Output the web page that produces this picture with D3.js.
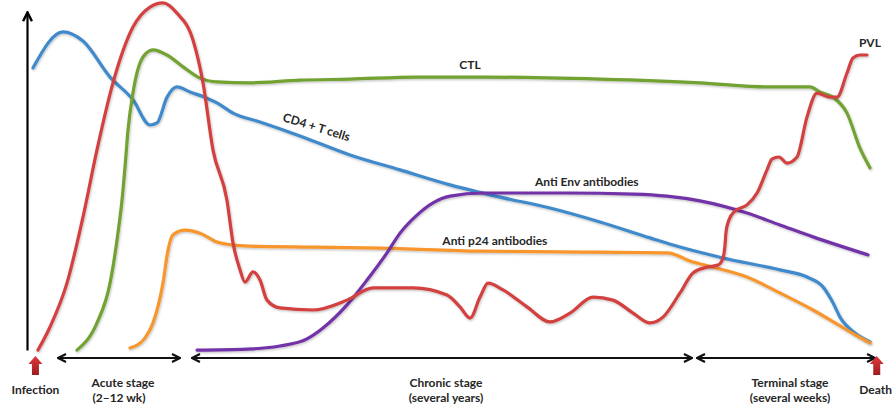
<!DOCTYPE html>
<html>
<head>
<meta charset="utf-8">
<script src="https://cdn.jsdelivr.net/npm/d3@7/dist/d3.min.js"></script>
<style>
  html, body { margin: 0; padding: 0; background: #fff; }
  svg { display: block; }
  text { font-family: Lato, "Open Sans", sans-serif; font-weight: 700; fill: #262626; }
</style>
</head>
<body>
<svg id="chart" width="893" height="414"></svg>
<script>
// ---- Data (x: relative time 0 = infection, 100 = death; y: relative level) ----
const pvlX = [1.30,2.73,4.74,6.64,8.30,10.20,12.57,14.59,16.13,17.79,19.69,20.88,22.06,23.72,24.44,25.27,25.86,26.81,27.64,28.47,30.01,33.93,37.96,41.04,45.79,49.82,51.36,52.55,53.74,54.69,56.47,59.31,62.04,64.41,67.14,69.51,71.89,73.90,75.44,77.46,79.00,80.66,81.97,82.56,82.80,82.92,83.27,83.99,85.41,86.60,87.78,88.37,89.20,90.15,91.34,92.53,93.71,95.26,96.09,97.27,97.98,98.81,99.64];
const pvlY = [-1.5,5.3,18.2,37.6,57.4,77.1,93.5,99.4,100.6,97.6,89.7,77.1,57.4,42.6,30.0,22.1,18.5,21.5,19.1,13.2,10.9,10.3,13.2,16.8,16.8,14.7,11.2,7.9,14.1,18.2,16.2,11.2,6.8,9.4,14.1,13.2,9.4,6.5,8.2,15.3,21.2,22.9,23.5,25.6,29.4,33.2,36.8,39.4,41.2,44.7,51.5,54.7,55.3,53.5,55.3,67.1,74.1,72.9,72.9,80.0,84.4,85.3,85.3];

const ctlX = [5.93,8.30,9.85,10.79,11.27,11.63,11.98,12.57,13.76,14.95,16.61,18.51,20.52,22.54,26.45,32.38,38.32,46.26,54.09,67.97,79.83,87.78,92.88,94.07,95.61,97.27,98.81,100];
const ctlY = [-1.5,6.5,18.2,32.9,42.6,52.4,63.2,74.1,84.7,86.8,85.3,81.8,78.5,77.4,77.1,77.9,78.2,78.8,78.8,78.2,77.1,75.9,75.9,74.4,72.9,68.2,57.9,52.1];

const cd4X = [0.71,4.27,6.64,9.85,12.57,14.59,15.42,16.61,17.79,19.34,21.35,22.54,24.44,27.64,32.38,38.32,44.25,50.18,56.11,62.04,67.97,73.90,77.46,82.56,89.32,92.53,94.42,95.61,96.44,98.22,100];
const cd4Y = [81.5,92.1,89.4,78.8,72.1,64.7,65.3,72.9,75.9,74.4,72.6,71.2,68.2,65.6,61.5,55.9,51.5,47.1,43.5,40.3,36.2,31.5,28.8,25.6,22.1,20.0,17.1,12.4,8.2,3.5,0.9];

const envX = [20.17,26.10,30.01,33.21,35.11,37.96,40.33,42.70,44.25,46.26,48.16,50.18,54.09,64.06,71.89,75.92,79.83,85.41,89.32,93.24,99.76];
const envY = [-1.5,-1.2,-0.3,1.8,5.0,11.8,19.1,27.1,32.9,38.2,41.8,43.8,44.7,44.7,44.4,43.8,42.4,38.8,35.3,31.8,26.5];

const p24X = [12.22,14.00,14.95,16.13,16.73,17.32,18.74,20.52,22.54,24.44,26.45,33.93,41.87,53.74,63.23,75.92,79.00,81.38,85.41,89.32,93.24,97.27,100];
const p24Y = [-0.9,2.1,6.5,18.2,27.9,32.4,33.8,32.9,30.3,29.4,29.1,28.8,28.5,27.6,27.4,27.1,24.4,22.9,20.0,15.3,10.3,4.4,0.6];

const seriesNames = ["PVL", "CTL", "CD4 + T cells", "Anti Env antibodies", "Anti p24 antibodies"];

const stageNames = ["Acute stage", "Chronic stage", "Terminal stage"];
const stageSubs  = ["(2\u201312 wk)", "(several years)", "(several weeks)"];
const stageStart = [3.68, 19.57, 79.48];
const stageEnd   = [18.15, 78.88, 100.6];

const eventNames = ["Infection", "Death"];
const eventX     = [1.0, 100.8];

// ---- Layout / styles ----
const colors = ["#d2403f", "#72a232", "#3f8acb", "#7232a8", "#f8962e"];
const labelPos = [
  {x: 100,  y: 87.6, rot: 0,  anchor: "middle"},
  {x: 52.55, y: 81.2, rot: 0, anchor: "middle"},
  {x: 34.2, y: 62.9, rot: 17, anchor: "middle"},
  {x: 66.4, y: 46.8, rot: 0,  anchor: "middle"},
  {x: 55.5, y: 29.4, rot: 0,  anchor: "middle"}
];
const fs = 12;

const svg = d3.select("#chart");
const x = d3.scaleLinear().domain([0, 100]).range([27, 870]);
const y = d3.scaleLinear().domain([0, 100]).range([345, 5]);

const defs = svg.append("defs");
defs.append("marker").attr("id", "openhead")
  .attr("viewBox", "0 0 10 10").attr("refX", 9).attr("refY", 5)
  .attr("markerWidth", 10).attr("markerHeight", 10)
  .attr("markerUnits", "userSpaceOnUse").attr("orient", "auto-start-reverse")
  .append("path").attr("d", "M1,1 L9,5 L1,9")
  .attr("fill", "none").attr("stroke", "#111").attr("stroke-width", 2.2)
  .attr("stroke-linejoin", "miter");
defs.append("marker").attr("id", "axishead")
  .attr("viewBox", "0 0 10 10").attr("refX", 8).attr("refY", 5)
  .attr("markerWidth", 11).attr("markerHeight", 11)
  .attr("markerUnits", "userSpaceOnUse").attr("orient", "auto")
  .append("path").attr("d", "M1,1 L9,5 L1,9")
  .attr("fill", "none").attr("stroke", "#000").attr("stroke-width", 2.2);
const sh = defs.append("filter").attr("id", "shadow").attr("x", "-5%").attr("y", "-5%").attr("width", "110%").attr("height", "110%");
sh.append("feDropShadow").attr("dx", 0.8).attr("dy", 1.2).attr("stdDeviation", 1.0)
  .attr("flood-color", "#000").attr("flood-opacity", 0.25);
const grad = defs.append("linearGradient").attr("id", "redArrow").attr("x1", 0).attr("y1", 0).attr("x2", 0).attr("y2", 1);
grad.append("stop").attr("offset", "0%").attr("stop-color", "#e0393a");
grad.append("stop").attr("offset", "100%").attr("stop-color", "#9c1c22");

// Y axis (no ticks) with arrow head
const axisG = svg.append("g").attr("transform", `translate(${x(0)},0)`)
  .call(d3.axisLeft(d3.scaleLinear().domain([0, 1]).range([350, 13])).ticks(0).tickSizeOuter(0));
axisG.select(".domain").attr("stroke", "#000").attr("stroke-width", 2.2).attr("marker-end", "url(#axishead)");

// Curves
const seriesX = [pvlX, ctlX, cd4X, envX, p24X];
const seriesY = [pvlY, ctlY, cd4Y, envY, p24Y];
const line = d3.line().x(d => x(d[0])).y(d => y(d[1])).curve(d3.curveMonotoneX);
const drawOrder = [2, 4, 3, 1, 0];
drawOrder.forEach(i => {
  const pts = seriesX[i].map((v, k) => [v, seriesY[i][k]]);
  svg.append("path").datum(pts)
    .attr("d", line).attr("fill", "none")
    .attr("stroke", colors[i]).attr("stroke-width", 3.2)
    .attr("stroke-linecap", "round").attr("stroke-linejoin", "round")
    .attr("filter", "url(#shadow)");
});

// Series labels
seriesNames.forEach((name, i) => {
  const p = labelPos[i];
  svg.append("text")
    .attr("transform", `translate(${x(p.x)},${y(p.y)}) rotate(${p.rot})`)
    .attr("text-anchor", p.anchor).attr("font-size", fs).text(name);
});

// Stage arrows and labels
const arrowY = 358;
stageNames.forEach((name, i) => {
  const x0 = x(stageStart[i]), x1 = x(stageEnd[i]);
  svg.append("line").attr("x1", x0).attr("x2", x1).attr("y1", arrowY).attr("y2", arrowY)
    .attr("stroke", "#111").attr("stroke-width", 2)
    .attr("marker-start", "url(#openhead)").attr("marker-end", "url(#openhead)");
  const cx = (x0 + x1) / 2 + 4;
  svg.append("text").attr("x", cx).attr("y", 387).attr("text-anchor", "middle")
    .attr("font-size", fs).text(name);
  svg.append("text").attr("x", cx - (i === 0 ? 4 : 0)).attr("y", 402).attr("text-anchor", "middle")
    .attr("font-size", fs).text(stageSubs[i]);
});

// Event arrows (infection / death)
eventNames.forEach((name, i) => {
  const cx = x(eventX[i]);
  const top = 356, mid = 364, bot = 375;
  const path = d3.path();
  path.moveTo(cx, top);
  path.lineTo(cx + 7, mid);
  path.lineTo(cx + 3.5, mid);
  path.lineTo(cx + 3.5, bot);
  path.lineTo(cx - 3.5, bot);
  path.lineTo(cx - 3.5, mid);
  path.lineTo(cx - 7, mid);
  path.closePath();
  svg.append("path").attr("d", path.toString()).attr("fill", "url(#redArrow)");
  svg.append("text").attr("x", i === 0 ? cx : 892).attr("y", 394)
    .attr("text-anchor", i === 0 ? "middle" : "end")
    .attr("font-size", fs).text(name);
});
</script>
</body>
</html>
